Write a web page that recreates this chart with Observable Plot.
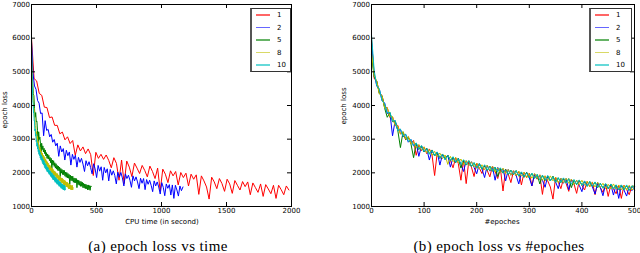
<!DOCTYPE html>
<html><head><meta charset="utf-8">
<script src="https://cdn.jsdelivr.net/npm/d3@7"></script>
<script src="https://cdn.jsdelivr.net/npm/@observablehq/plot@0.6"></script>
<style>
body{margin:0;background:#fff;}
#wrap{position:relative;width:640px;height:253px;overflow:hidden;background:#fff;font-family:"DejaVu Sans",sans-serif;color:#000;}
.pl{position:absolute;top:0;}
.cap{position:absolute;font-family:"Liberation Serif",serif;font-size:15px;letter-spacing:0.4px;line-height:15px;white-space:nowrap;transform:translate(-50%,-50%);}
.axlab{position:absolute;font-size:7px;line-height:7px;white-space:nowrap;transform:translate(-50%,-50%);}
.axlab.rot{transform:translate(-50%,-50%) rotate(-90deg);}
.legend{position:absolute;border:1px solid #333;border-left:2px solid #555;background:#fff;box-sizing:border-box;}
.row{position:absolute;left:0;height:8px;width:100%;font-size:7px;line-height:8px;}
.row .sw{position:absolute;left:4px;top:3px;width:14px;height:1.5px;opacity:0.6;}
.row .lb{position:absolute;left:25px;top:0;}
</style></head>
<body><div id="wrap"></div>
<script>
// ---- data ----
const seriesNames = ["1", "2", "5", "8", "10"];
const seriesColors = ["#ff0000", "#0000ff", "#008000", "#bfbf00", "#00bfbf"];
const secondsPerEpoch = [3.96, 2.33, 0.92, 0.64, 0.52];
const epochs = d3.range(0, 501, 5);
const loss1 = [6000,4800,4730,4360,4300,3950,3940,3640,3660,3410,
3410,3160,3210,2980,3070,2870,2960,2520,2830,2650,
2770,2570,2710,2540,1920,2610,2430,2550,2400,2530,
2370,2150,2450,2280,1780,2380,1680,2350,2170,1890,
2290,2140,1980,2220,2070,1880,2200,2040,1830,2140,
1460,2110,1960,1710,2060,1910,2040,1640,2010,1860,
1990,1610,1960,1810,1940,1360,1910,1760,1580,1220,
1870,1730,1530,1830,1680,1450,1810,1670,1390,1770,
1630,1490,1740,1590,1730,1350,1700,1560,1420,1670,
1300,1650,1520,1380,1630,1240,1630,1500,1350,1610,1490];
const loss2 = [5900,4950,4580,4480,4150,4070,3760,3780,3100,3550,
3260,3290,3070,3140,2910,2990,2800,2880,2490,2800,
2620,2720,2380,2670,2510,2620,2230,2550,2400,2520,
2170,2460,2310,2430,2260,2040,2360,2210,2330,2160,
1970,2270,2120,1860,2220,2050,2180,1780,2160,2000,
2120,1760,2100,1930,2060,1920,1670,2020,1870,2010,
1850,1610,1970,1830,1930,1780,1570,1910,1760,1880,
1730,1530,1840,1690,1830,1500,1800,1660,1780,1630,
1440,1760,1610,1730,1580,1370,1710,1570,1320,1670,
1540,1650,1340,1640,1240,1630,1490,1310,1610,1470,1580];
const loss5 = [5500,4850,4710,4350,4290,3920,3650,3790,3520,3540,
3260,2750,3220,2990,3060,2860,2450,2880,2690,2800,
2620,2730,2570,2680,2500,2600,2430,2560,2410,2520,
2360,2460,2300,2430,2140,2380,2230,2360,2190,2300,
2140,2270,2110,2220,2070,2200,2060,2170,1890,2130,
1990,2100,1950,2080,1940,2070,1900,2020,1870,2010,
1850,1980,1840,1950,1670,1930,1770,1900,1760,1900,
1720,1850,1710,1840,1700,1830,1560,1790,1650,1780,
1630,1750,1600,1740,1600,1720,1560,1690,1550,1670,
1530,1660,1530,1640,1490,1640,1500,1620,1480,1610,1600];
const loss8 = [5600,4900,4720,4340,4290,3930,3930,3660,3670,3400,
3390,3150,3220,3010,3080,2860,2930,2740,2840,2670,
2770,2590,2690,2520,2640,2480,2590,2420,2530,2250,
2490,2330,2460,2300,2410,2240,2360,2210,2330,2180,
2290,2120,2240,2090,2230,2070,2190,2020,2150,2000,
2140,1980,2100,1930,2060,1920,2050,1900,2020,1860,
1980,1840,1980,1830,1940,1780,1910,1770,1910,1760,
1870,1710,1840,1700,1840,1690,1810,1650,1780,1640,
1780,1630,1750,1590,1720,1580,1720,1570,1690,1530,
1660,1520,1670,1520,1640,1490,1620,1490,1630,1490,1560];
const loss10 = [6100,5050,4590,4490,4150,4060,3780,3800,3540,3550,
3250,3300,3090,3150,2930,2990,2790,2890,2710,2810,
2630,2720,2550,2670,2510,2620,2440,2550,2390,2520,
2370,2480,2310,2420,2260,2390,2240,2360,2190,2300,
2140,2270,2120,2240,2080,2190,2040,2170,2030,2150,
2000,2090,1960,2070,1950,2060,1910,2030,1880,2000,
1860,1990,1830,1950,1790,1930,1790,1920,1760,1880,
1720,1860,1720,1850,1690,1810,1660,1800,1660,1790,
1630,1750,1600,1740,1600,1730,1570,1690,1540,1680,
1540,1670,1520,1640,1490,1640,1500,1640,1480,1610,1500];
const lossSeries = [loss1, loss2, loss5, loss8, loss10];
const yTicks = [1000, 2000, 3000, 4000, 5000, 6000, 7000];
const timeTicks = [0, 500, 1000, 1500, 2000];
const epochTicks = [0, 100, 200, 300, 400, 500];

// table built from arrays
const rows = [];
seriesNames.forEach((s, i) => {
  lossSeries[i].forEach((v, j) => {
    rows.push({series: s, epoch: epochs[j], time: epochs[j] * secondsPerEpoch[i], loss: v});
  });
});

function panel({xKey, xDomain, xTicks, width, marginLeft, marginRight}) {
  const H = 230, mt = 4, mb = 24;
  const pw = width - marginLeft - marginRight, ph = H - mt - mb;
  const fmt = d => String(d);
  return Plot.plot({
    width, height: H, marginTop: mt, marginBottom: mb, marginLeft, marginRight,
    style: {fontFamily: "DejaVu Sans", fontSize: "7px", background: "transparent", overflow: "visible", color: "#000"},
    x: {domain: xDomain},
    y: {domain: [1000, 7000]},
    color: {domain: seriesNames, range: seriesColors},
    marks: [
      Plot.line(rows, {x: xKey, y: "loss", z: "series", stroke: "series", strokeWidth: 1}),
      Plot.frame({stroke: "#000"}),
      Plot.axisX(xTicks, {tickSize: 0, tickPadding: 1.5, label: null, tickFormat: fmt}),
      Plot.axisY(yTicks, {tickSize: 0, tickPadding: 1.5, label: null, tickFormat: fmt}),
      Plot.tickX(xTicks, {x: d => d, insetTop: ph - 4, stroke: "#000"}),
      Plot.tickX(xTicks, {x: d => d, insetBottom: ph - 4, stroke: "#000"}),
      Plot.tickY(yTicks, {y: d => d, insetRight: pw - 4, stroke: "#000"}),
      Plot.tickY(yTicks, {y: d => d, insetLeft: pw - 4, stroke: "#000"})
    ]
  });
}

const wrap = document.getElementById("wrap");
const left = panel({xKey: "time", xDomain: [0, 2000], xTicks: timeTicks, width: 300, marginLeft: 31, marginRight: 9});
left.classList.add("pl"); left.style.left = "0px";
wrap.appendChild(left);
const right = panel({xKey: "epoch", xDomain: [0, 500], xTicks: epochTicks, width: 320, marginLeft: 51, marginRight: 6});
right.classList.add("pl"); right.style.left = "320px";
wrap.appendChild(right);

function addDiv(cls, text, x, y) {
  const d = document.createElement("div");
  d.className = cls; d.textContent = text;
  d.style.left = x + "px"; d.style.top = y + "px";
  wrap.appendChild(d);
}
addDiv("axlab rot", "epoch loss", 4.5, 110);
addDiv("axlab rot", "epoch loss", 343.5, 106);
addDiv("axlab", "CPU time (in second)", 162, 221.5);
addDiv("axlab", "#epoches", 502, 221.5);
addDiv("cap", "(a) epoch loss vs time", 158, 245.5);
addDiv("cap", "(b) epoch loss vs #epoches", 499, 245.5);

function legend(x, y, w) {
  const lg = document.createElement("div");
  lg.className = "legend";
  lg.style.left = x + "px"; lg.style.top = y + "px";
  lg.style.width = w + "px"; lg.style.height = "64px";
  seriesNames.forEach((s, i) => {
    const r = document.createElement("div");
    r.className = "row";
    r.style.top = (2 + i * 12.5) + "px";
    const sw = document.createElement("div");
    sw.className = "sw"; sw.style.background = seriesColors[i];
    const lb = document.createElement("div");
    lb.className = "lb"; lb.textContent = s;
    r.appendChild(sw); r.appendChild(lb);
    lg.appendChild(r);
  });
  wrap.appendChild(lg);
}
legend(250, 8, 41);
legend(589, 8, 43);
</script></body></html>
